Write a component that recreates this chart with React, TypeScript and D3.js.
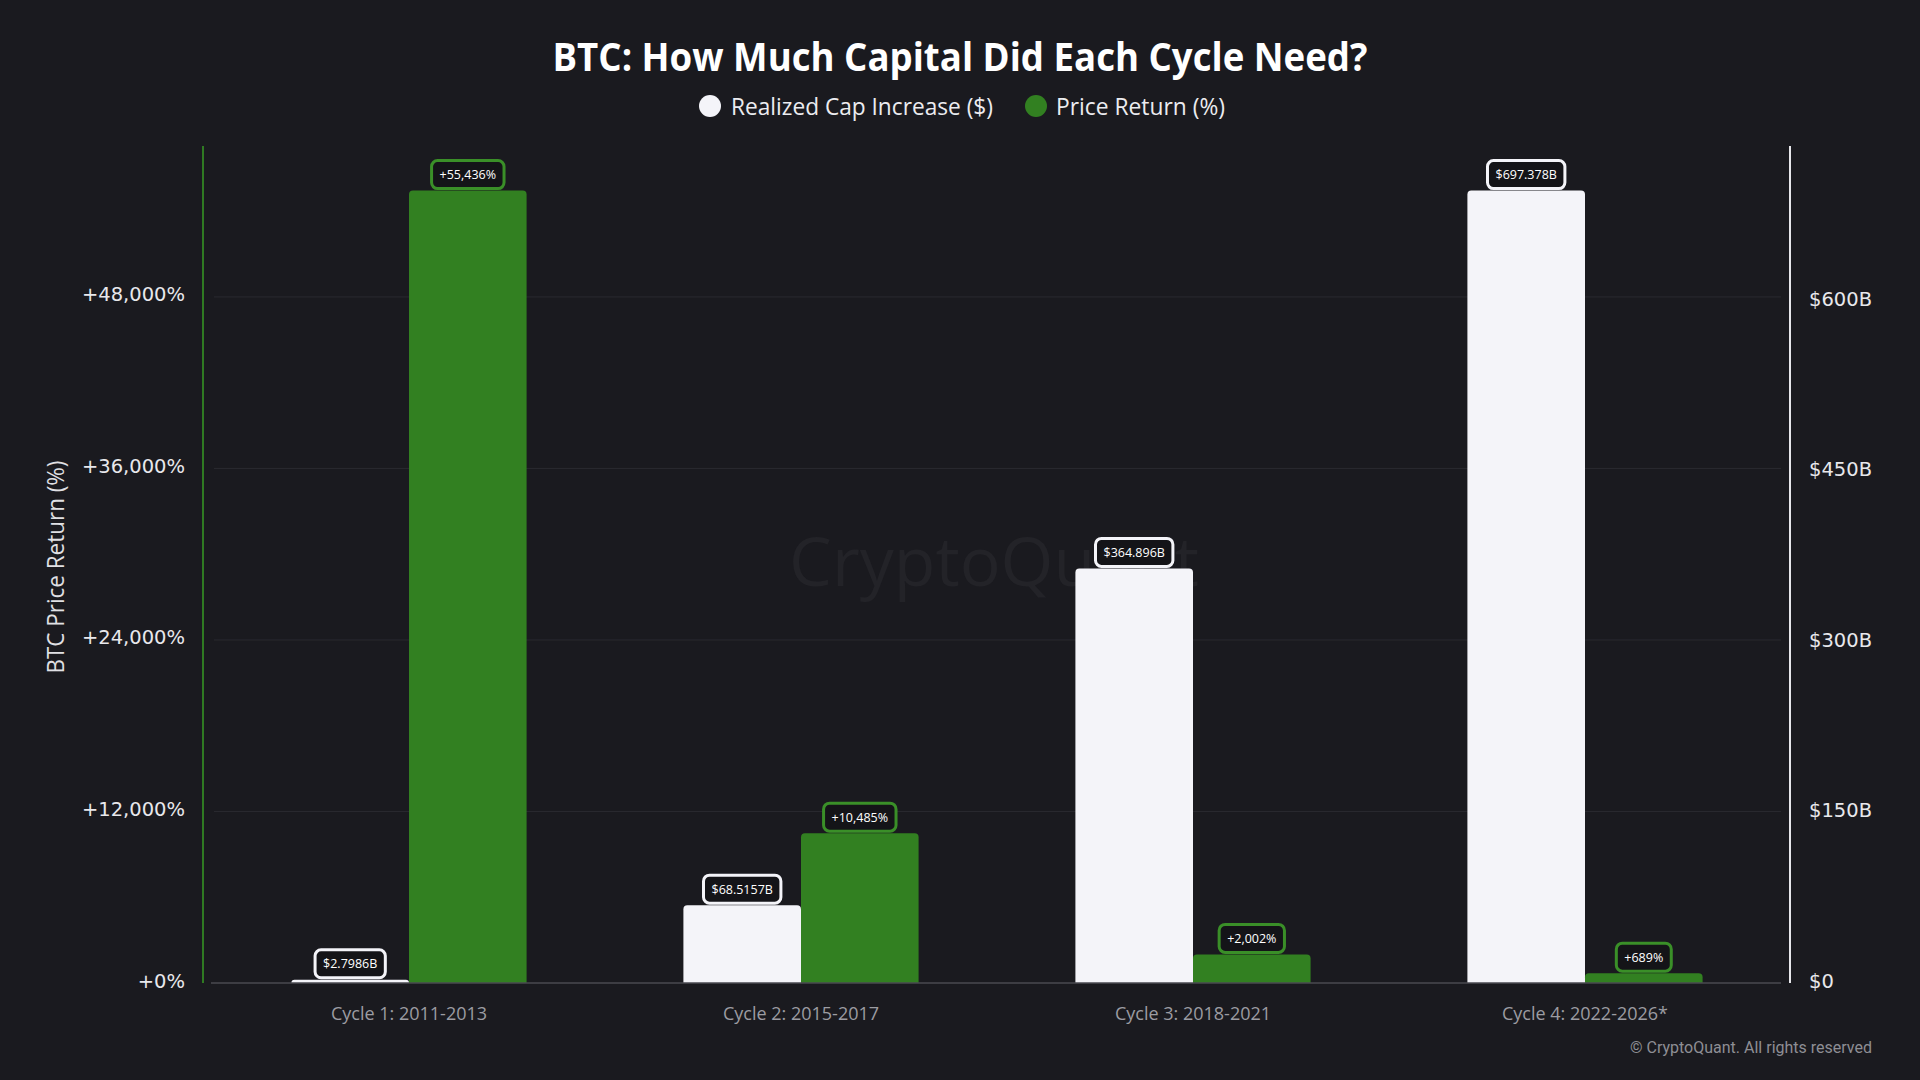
import { useEffect, useRef } from 'react';
import * as d3 from 'd3';

// chart data
const categories = ['Cycle 1: 2011-2013', 'Cycle 2: 2015-2017', 'Cycle 3: 2018-2021', 'Cycle 4: 2022-2026*'];
const realizedCapB = [2.7986, 68.5157, 364.896, 697.378];
const priceReturnPct = [55436, 10485, 2002, 689];
const leftTicks = [0, 12000, 24000, 36000, 48000];
const rightTicks = [0, 150, 300, 450, 600];
const seriesNames = ['Realized Cap Increase ($)', 'Price Return (%)'];

const BG = '#1a1a1f';
const WHITE = '#f4f4f9';
const GREEN = '#328021';

const topRounded = (x: number, y: number, w: number, h: number, r: number) => {
  const rr = Math.max(0, Math.min(r, h, w / 2));
  return `M${x},${y + h}V${y + rr}Q${x},${y} ${x + rr},${y}H${x + w - rr}Q${x + w},${y} ${x + w},${y + rr}V${y + h}Z`;
};

const App = () => {
  const svgRef = useRef<SVGSVGElement>(null);

  useEffect(() => {
    document.body.style.margin = '0';
    document.body.style.background = BG;
    if (!svgRef.current) return;

    const svg = d3.select(svgRef.current);
    svg.selectAll('*').remove();

    const width = 1920;
    const height = 1080;
    const plot = { left: 213, right: 1781, top: 151, bottom: 983 };

    svg.append('rect').attr('width', width).attr('height', height).attr('fill', BG);

    // scales
    const x0 = d3.scaleBand<string>()
      .domain(categories)
      .range([plot.left, plot.right])
      .paddingInner(0.4)
      .paddingOuter(0.2);
    const x1 = d3.scaleBand<string>()
      .domain(seriesNames)
      .range([0, x0.bandwidth()])
      .padding(0);
    const yLeft = d3.scaleLinear()
      .domain([0, (d3.max(priceReturnPct) as number) * 1.05])
      .range([plot.bottom, plot.top]);
    const yRight = d3.scaleLinear()
      .domain([0, (d3.max(realizedCapB) as number) * 1.05])
      .range([plot.bottom, plot.top]);

    // watermark
    svg.append('text')
      .attr('x', 994)
      .attr('y', 586)
      .attr('text-anchor', 'middle')
      .attr('font-family', 'Open Sans')
      .attr('font-size', 68)
      .attr('fill', '#232328')
      .text('CryptoQuant');

    // grid lines
    leftTicks.filter(t => t > 0).forEach(t => {
      svg.append('line')
        .attr('x1', plot.left + 1).attr('x2', plot.right)
        .attr('y1', yLeft(t)).attr('y2', yLeft(t))
        .attr('stroke', '#2a2a30').attr('stroke-width', 1);
    });

    // bars
    const fmtPct = d3.format(',');
    type Item = { cat: string; series: string; y: number; label: string; color: string };
    const items: Item[] = [];
    categories.forEach((c, i) => {
      items.push({ cat: c, series: seriesNames[0], y: yRight(realizedCapB[i]), label: `$${realizedCapB[i]}B`, color: WHITE });
      items.push({ cat: c, series: seriesNames[1], y: yLeft(priceReturnPct[i]), label: `+${fmtPct(priceReturnPct[i])}%`, color: GREEN });
    });

    items.forEach(d => {
      const bx = (x0(d.cat) as number) + (x1(d.series) as number);
      svg.append('path')
        .attr('d', topRounded(bx, d.y, x1.bandwidth(), plot.bottom - d.y, 4))
        .attr('fill', d.color);
    });

    // baseline
    svg.append('line')
      .attr('x1', plot.left - 2).attr('x2', plot.right)
      .attr('y1', plot.bottom).attr('y2', plot.bottom)
      .attr('stroke', '#4a4a50').attr('stroke-width', 1.5);

    // value labels
    items.forEach(d => {
      const cx = (x0(d.cat) as number) + (x1(d.series) as number) + x1.bandwidth() / 2;
      const g = svg.append('g');
      const rect = g.append('rect');
      const txt = g.append('text')
        .attr('x', cx)
        .attr('y', d.y - 16 + 4.5)
        .attr('text-anchor', 'middle')
        .attr('font-family', 'Open Sans')
        .attr('font-size', 12.5)
        .attr('fill', '#ffffff')
        .text(d.label);
      const w = (txt.node() as SVGTextElement).getComputedTextLength() + 16;
      rect
        .attr('x', cx - w / 2)
        .attr('y', d.y - 30)
        .attr('width', w)
        .attr('height', 28)
        .attr('rx', 6)
        .attr('fill', '#141418')
        .attr('stroke', d.color === GREEN ? '#3a8f28' : WHITE)
        .attr('stroke-width', 3);
    });

    // axis lines
    svg.append('line')
      .attr('x1', 203).attr('x2', 203)
      .attr('y1', plot.top - 5).attr('y2', plot.bottom)
      .attr('stroke', '#2f7a22').attr('stroke-width', 2);
    svg.append('line')
      .attr('x1', 1790).attr('x2', 1790)
      .attr('y1', plot.top - 5).attr('y2', plot.bottom)
      .attr('stroke', '#e6e6ea').attr('stroke-width', 2);

    // tick labels
    leftTicks.forEach(t => {
      svg.append('text')
        .attr('x', 185)
        .attr('y', yLeft(t) + 4.5)
        .attr('text-anchor', 'end')
        .attr('font-family', 'DejaVu Sans')
        .attr('font-size', 19.5)
        .attr('fill', '#e8e8ec')
        .text(`+${fmtPct(t)}%`);
    });
    rightTicks.forEach(t => {
      svg.append('text')
        .attr('x', 1809)
        .attr('y', yRight(t) + 4.5)
        .attr('text-anchor', 'start')
        .attr('font-family', 'DejaVu Sans')
        .attr('font-size', 19.5)
        .attr('fill', '#e8e8ec')
        .text(t === 0 ? '$0' : `$${t}B`);
    });

    // category labels
    categories.forEach(c => {
      svg.append('text')
        .attr('x', (x0(c) as number) + x0.bandwidth() / 2)
        .attr('y', 1020)
        .attr('text-anchor', 'middle')
        .attr('font-family', 'Open Sans')
        .attr('font-size', 18)
        .attr('fill', '#9c9ca2')
        .text(c);
    });

    // y axis title
    svg.append('text')
      .attr('transform', 'translate(64,567) rotate(-90)')
      .attr('text-anchor', 'middle')
      .attr('font-family', 'Open Sans')
      .attr('font-size', 23.5)
      .attr('textLength', 213)
      .attr('lengthAdjust', 'spacingAndGlyphs')
      .attr('fill', '#e0e0e4')
      .text('BTC Price Return (%)');

    // title
    svg.append('text')
      .attr('x', 960)
      .attr('y', 71)
      .attr('text-anchor', 'middle')
      .attr('font-family', 'Open Sans')
      .attr('font-weight', 700)
      .attr('font-size', 40)
      .attr('textLength', 815)
      .attr('lengthAdjust', 'spacingAndGlyphs')
      .attr('fill', '#ffffff')
      .text('BTC: How Much Capital Did Each Cycle Need?');

    // legend
    const legend = [
      { name: seriesNames[0], color: WHITE, cx: 710, tx: 731, len: 262 },
      { name: seriesNames[1], color: GREEN, cx: 1036, tx: 1056, len: 169 },
    ];
    legend.forEach(l => {
      svg.append('circle').attr('cx', l.cx).attr('cy', 106).attr('r', 11).attr('fill', l.color);
      svg.append('text')
        .attr('x', l.tx)
        .attr('y', 115)
        .attr('font-family', 'Open Sans')
        .attr('font-size', 24.5)
        .attr('textLength', l.len)
        .attr('lengthAdjust', 'spacingAndGlyphs')
        .attr('fill', '#ececf0')
        .text(l.name);
    });

    // footer
    svg.append('text')
      .attr('x', 1872)
      .attr('y', 1053)
      .attr('text-anchor', 'end')
      .attr('font-family', 'Roboto')
      .attr('font-size', 16)
      .attr('fill', '#8e8e94')
      .text('© CryptoQuant. All rights reserved');
  }, []);

  return <svg ref={svgRef} width={1920} height={1080} style={{ display: 'block' }} />;
};

export default App;
